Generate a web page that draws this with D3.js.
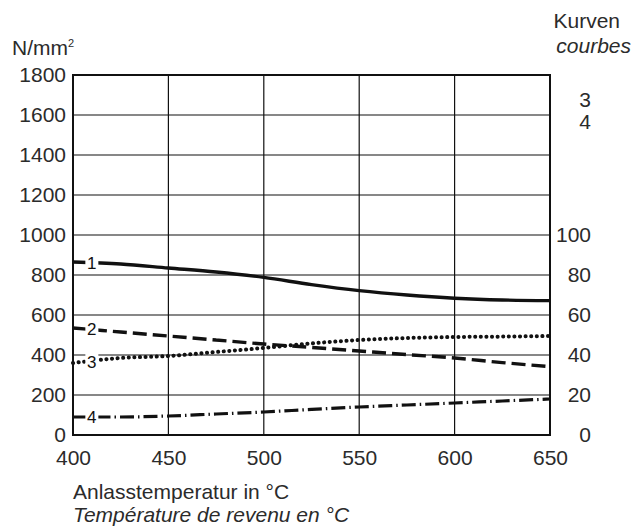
<!DOCTYPE html>
<html>
<head>
<meta charset="utf-8">
<script src="https://cdn.jsdelivr.net/npm/d3@7"></script>
<style>
  body { margin: 0; background: #fff; }
  svg text { font-family: "Liberation Sans", Arial, sans-serif; fill: #2b2b2b; }
</style>
</head>
<body>
<svg width="643" height="531"></svg>
<script>
// temperatures (°C)
const temps = [400, 425, 450, 475, 500, 525, 550, 575, 600, 625, 650];
// curves 1, 2 on left scale (N/mm²), curves 3, 4 on right scale
const curve1 = [865, 855, 835, 815, 788, 752, 722, 700, 684, 675, 672];
const curve2 = [535, 515, 495, 475, 455, 438, 420, 402, 385, 362, 342];
const curve3 = [36, 38.5, 39.5, 41.5, 43.5, 45.8, 47.5, 48.5, 49, 49.2, 49.5];
const curve4 = [9, 9, 9.5, 10.5, 11.5, 12.8, 14, 15, 16, 17, 18];

const xTicks = [400, 450, 500, 550, 600, 650];
const leftTicks = [0, 200, 400, 600, 800, 1000, 1200, 1400, 1600, 1800];
const rightTicks = [0, 20, 40, 60, 80, 100];

const svg = d3.select("svg");
const pL = 73, pR = 550, pT = 75, pB = 435;

const x = d3.scaleLinear().domain([400, 650]).range([pL, pR]);
const y = d3.scaleLinear().domain([0, 1800]).range([pB, pT]);
const y2 = d3.scaleLinear().domain([0, 180]).range([pB, pT]);

// grid
svg.append("g")
  .selectAll("line")
  .data(leftTicks)
  .enter().append("line")
  .attr("x1", pL).attr("x2", pR)
  .attr("y1", d => y(d)).attr("y2", d => y(d))
  .attr("stroke", "#111").attr("stroke-width", 1.2);

svg.append("g")
  .selectAll("line")
  .data(xTicks)
  .enter().append("line")
  .attr("x1", d => x(d)).attr("x2", d => x(d))
  .attr("y1", pT).attr("y2", pB)
  .attr("stroke", "#111").attr("stroke-width", 1.2);

svg.append("rect")
  .attr("x", pL).attr("y", pT)
  .attr("width", pR - pL).attr("height", pB - pT)
  .attr("fill", "none").attr("stroke", "#111").attr("stroke-width", 2);

// axes
const fs = "21px";
svg.append("g")
  .attr("transform", `translate(${pL},0)`)
  .call(d3.axisLeft(y).tickValues(leftTicks).tickFormat(d3.format("d")).tickSize(0).tickPadding(7))
  .call(g => g.select(".domain").remove())
  .call(g => g.attr("font-family", null).attr("font-size", null))
  .selectAll("text").style("font-size", fs).attr("fill", null);

svg.append("g")
  .attr("transform", `translate(${pR},0)`)
  .call(d3.axisRight(y2).tickValues(rightTicks).tickFormat(d3.format("d")).tickSize(0))
  .call(g => g.select(".domain").remove())
  .call(g => g.attr("font-family", null).attr("font-size", null).attr("text-anchor", "end"))
  .selectAll("text")
  .attr("x", 41)
  .style("font-size", fs).attr("fill", null);

svg.append("g")
  .attr("transform", `translate(0,${pB})`)
  .call(d3.axisBottom(x).tickValues(xTicks).tickFormat(d3.format("d")).tickSize(0).tickPadding(15))
  .call(g => g.select(".domain").remove())
  .call(g => g.attr("font-family", null).attr("font-size", null))
  .selectAll("text").style("font-size", fs).attr("fill", null);

// curves
const series = [
  { id: "1", vals: curve1, sc: y, dash: null, w: 3.4 },
  { id: "2", vals: curve2, sc: y, dash: "14,6", w: 3.4 },
  { id: "3", vals: curve3, sc: y2, dash: "0.1,5.5", w: 4 },
  { id: "4", vals: curve4, sc: y2, dash: "14,4,1.5,4", w: 3.2 }
];

series.forEach(s => {
  const line = d3.line()
    .x((d, i) => x(temps[i]))
    .y(d => s.sc(d))
    .curve(d3.curveMonotoneX);
  svg.append("path")
    .datum(s.vals)
    .attr("d", line)
    .attr("fill", "none")
    .attr("stroke", "#111")
    .attr("stroke-width", s.w)
    .attr("stroke-linecap", s.id === "3" ? "round" : "butt")
    .attr("stroke-dasharray", s.dash);

  // curve number label with white knockout
  const lx = x(407), ly = s.sc(s.vals[0] - (s.vals[0] - s.vals[1]) * 0.28);
  svg.append("rect")
    .attr("x", lx - 1).attr("y", ly - 9)
    .attr("width", 13).attr("height", 18)
    .attr("fill", "#fff");
  svg.append("text")
    .attr("x", lx + 5.5).attr("y", ly + 6)
    .attr("text-anchor", "middle")
    .style("font-size", "17px")
    .style("fill", "#111")
    .text(s.id);
});

// titles
svg.append("text").attr("x", 12).attr("y", 55).style("font-size", fs)
  .html('N/mm<tspan dy="-8" style="font-size:11px">2</tspan>');
svg.append("text").attr("x", 620).attr("y", 28).attr("text-anchor", "end").style("font-size", fs).text("Kurven");
svg.append("text").attr("x", 631).attr("y", 53).attr("text-anchor", "end").style("font-size", fs)
  .style("font-style", "italic").text("courbes");
svg.append("text").attr("x", 591).attr("y", 107).attr("text-anchor", "end").style("font-size", fs).text("3");
svg.append("text").attr("x", 591).attr("y", 129).attr("text-anchor", "end").style("font-size", fs).text("4");

svg.append("text").attr("x", 73).attr("y", 499).style("font-size", fs).text("Anlasstemperatur in °C");
svg.append("text").attr("x", 73).attr("y", 522).style("font-size", fs)
  .style("font-style", "italic").text("Température de revenu en °C");
</script>
</body>
</html>
